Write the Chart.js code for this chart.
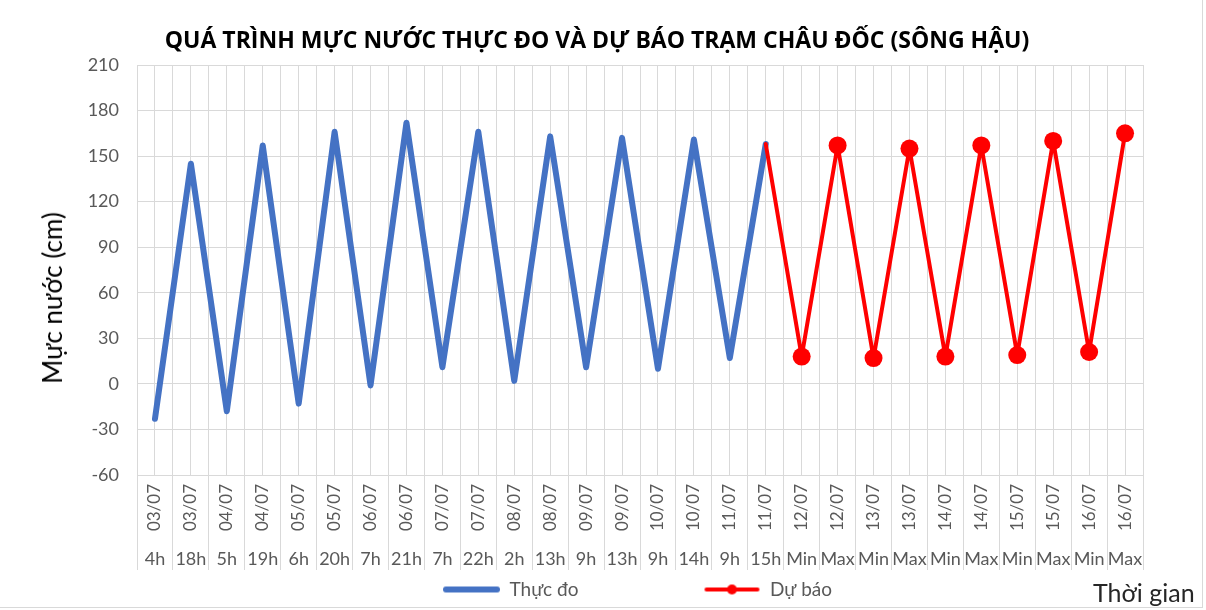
<!DOCTYPE html>
<html>
<head>
<meta charset="utf-8">
<script src="https://cdn.jsdelivr.net/npm/chart.js@4.4.1/dist/chart.umd.min.js"></script>
<style>
  html, body { margin: 0; padding: 0; background: #fff; }
  #wrap { position: relative; width: 1206px; height: 610px; overflow: hidden; }
  #frame { position: absolute; left: -1px; top: -1px; width: 1204px; height: 609px; border: 1px solid #d9d9d9; box-sizing: border-box; pointer-events: none; }
  #xtitle { position: absolute; left: 1093px; top: 576px; font: 25px Lato, sans-serif; line-height: 32px; color: #262626; white-space: nowrap; }
  #ytitle { position: absolute; left: 52px; top: 298px; font: 26px Lato, sans-serif; line-height: 32px; color: #000; white-space: nowrap;
            transform: translate(-50%, -50%) rotate(-90deg); }
  canvas { position: absolute; left: 0; top: 0; }
</style>
</head>
<body>
<div id="wrap">
  <canvas id="c" width="1206" height="610"></canvas>
  <div id="ytitle"></div>
  <div id="xtitle"></div>
  <div id="frame"></div>
</div>
<script>
// ---- data ----
const dates = ['03/07','03/07','04/07','04/07','05/07','05/07','06/07','06/07','07/07','07/07',
               '08/07','08/07','09/07','09/07','10/07','10/07','11/07','11/07','12/07','12/07',
               '13/07','13/07','14/07','14/07','15/07','15/07','16/07','16/07'];
const hours = ['4h','18h','5h','19h','6h','20h','7h','21h','7h','22h',
               '2h','13h','9h','13h','9h','14h','9h','15h','Min','Max',
               'Min','Max','Min','Max','Min','Max','Min','Max'];
const observed = [-23, 145, -18, 157, -13, 166, -1, 172, 11, 166, 2, 163, 11, 162, 10, 161, 17, 158];
const forecast = [18, 157, 17, 155, 18, 157, 19, 160, 21, 165];
const yTicks = [-60, -30, 0, 30, 60, 90, 120, 150, 180, 210];

const seriesNames = ['Thực đo', 'Dự báo'];
const chartTitle = 'QUÁ TRÌNH MỰC NƯỚC THỰC ĐO VÀ DỰ BÁO TRẠM CHÂU ĐỐC (SÔNG HẬU)';
const yTitle = 'Mực nước (cm)';
const xTitle = 'Thời gian';
document.getElementById('ytitle').textContent = yTitle;
document.getElementById('xtitle').textContent = xTitle;

// forecast line starts at the last observed point
const lastObs = observed.length - 1;
const forecastSeries = dates.map((_, i) =>
  i < lastObs ? null : (i === lastObs ? observed[lastObs] : forecast[i - observed.length]));

// ---- styling ----
const FONT = "Lato, sans-serif";
const BLUE = '#4472C4';
const RED = '#FF0000';
const GRID = '#d9d9d9';
const TXT = '#595959';
const LEG_SIZE = 19;

// legend symbols (line samples) built as small canvases
const mctx = document.createElement('canvas').getContext('2d');
mctx.font = LEG_SIZE + 'px ' + FONT;
const tw1 = mctx.measureText(seriesNames[0]).width;
const tw2 = mctx.measureText(seriesNames[1]).width;
const LINE_W = 57;
const blueStart = 443, redStart = 703;
let blank = redStart - (blueStart + LINE_W + LEG_SIZE / 2 + tw1 + 10);
blank = Math.max(0, Math.round(blank));
const ICON_W = blank + LINE_W;

function makeIcon(color, width, dot) {
  const cv = document.createElement('canvas');
  cv.width = ICON_W; cv.height = 16;
  const g = cv.getContext('2d');
  g.strokeStyle = color; g.lineWidth = width; g.lineCap = 'round';
  g.beginPath(); g.moveTo(blank + 3, 8); g.lineTo(ICON_W - 3, 8); g.stroke();
  if (dot) { g.fillStyle = color; g.beginPath(); g.arc(blank + LINE_W / 2, 8, 5, 0, Math.PI * 2); g.fill(); }
  return cv;
}
const icons = [makeIcon(BLUE, 6, false), makeIcon(RED, 4, true)];

// shift legend so that the blue sample starts where it does in the original
const contentW = 2 * ICON_W + LEG_SIZE + tw1 + 10 + tw2;
const legendShift = {
  id: 'legendShift',
  afterLayout(chart) {
    const l = chart.legend;
    if (!l) return;
    const center = (l.left + l.right) / 2;
    const curBlue = center - contentW / 2 + blank;
    const d = blueStart - curBlue;
    l.left += d; l.right += d;
  }
};

new Chart(document.getElementById('c'), {
  type: 'line',
  data: {
    labels: hours,
    datasets: [
      {
        label: seriesNames[0],
        data: observed,
        borderColor: BLUE,
        backgroundColor: BLUE,
        borderWidth: 6,
        borderJoinStyle: 'round',
        borderCapStyle: 'round',
        pointRadius: 0,
        pointHoverRadius: 0,
        tension: 0,
        xAxisID: 'x',
        order: 2
      },
      {
        label: seriesNames[1],
        data: forecastSeries,
        borderColor: RED,
        backgroundColor: RED,
        borderWidth: 4,
        borderJoinStyle: 'round',
        borderCapStyle: 'round',
        pointRadius: forecastSeries.map((v, i) => i <= lastObs ? 0 : 9),
        pointHoverRadius: 9,
        pointBackgroundColor: RED,
        pointBorderWidth: 0,
        tension: 0,
        xAxisID: 'x',
        order: 1
      }
    ]
  },
  options: {
    responsive: false,
    animation: false,
    devicePixelRatio: 1,
    layout: { padding: { left: 0, right: 12, top: 0, bottom: 1 } },
    plugins: {
      title: {
        display: true,
        text: chartTitle,
        color: '#000',
        font: { family: "'Open Sans', sans-serif", size: 23, weight: 'bold', lineHeight: 1.2 },
        padding: { top: 28, bottom: 9.4 }
      },
      legend: {
        display: true,
        position: 'bottom',
        labels: {
          usePointStyle: true,
          pointStyleWidth: ICON_W,
          padding: 10,
          color: TXT,
          font: { family: FONT, size: LEG_SIZE },
          generateLabels: (chart) => chart.data.datasets.map((ds, i) => ({
            text: ds.label,
            pointStyle: icons[i],
            datasetIndex: i,
            hidden: false,
            fillStyle: 'transparent',
            strokeStyle: 'transparent',
            lineWidth: 0,
            fontColor: TXT
          }))
        }
      },
      tooltip: { enabled: false }
    },
    scales: {
      y: {
        type: 'linear',
        position: 'left',
        min: yTicks[0],
        max: yTicks[yTicks.length - 1],
        afterBuildTicks: (s) => { s.ticks = yTicks.map(v => ({ value: v })); },
        grid: { color: GRID, drawTicks: false, lineWidth: 1 },
        border: { display: true, color: GRID },
        ticks: { color: TXT, font: { family: FONT, size: 18 }, padding: 18 },
        afterFit: (s) => { s.width = 137; }
      },
      yr: {
        type: 'linear',
        position: 'right',
        display: true,
        grid: { display: false, drawTicks: false },
        border: { display: false },
        ticks: { display: false },
        afterFit: (s) => { s.width = 51; }
      },
      xd: {
        type: 'category',
        labels: dates,
        position: 'bottom',
        weight: 0,
        offset: true,
        grid: { offset: true, color: GRID, drawTicks: true, tickLength: 95, lineWidth: 1 },
        border: { display: true, color: GRID },
        ticks: {
          autoSkip: false,
          minRotation: 90,
          maxRotation: 90,
          padding: -86,
          color: TXT,
          font: { family: FONT, size: 17 }
        },
        afterFit: (s) => { s.height = 63; }
      },
      x: {
        type: 'category',
        labels: hours,
        position: 'bottom',
        weight: 1,
        offset: true,
        grid: { offset: false, color: GRID, drawTicks: false, lineWidth: 1 },
        border: { display: false },
        ticks: {
          autoSkip: false,
          minRotation: 0,
          maxRotation: 0,
          padding: 10,
          color: TXT,
          font: { family: FONT, size: 18 }
        },
        afterFit: (s) => { s.height = 32; }
      }
    }
  },
  plugins: [legendShift]
});
</script>
</body>
</html>
